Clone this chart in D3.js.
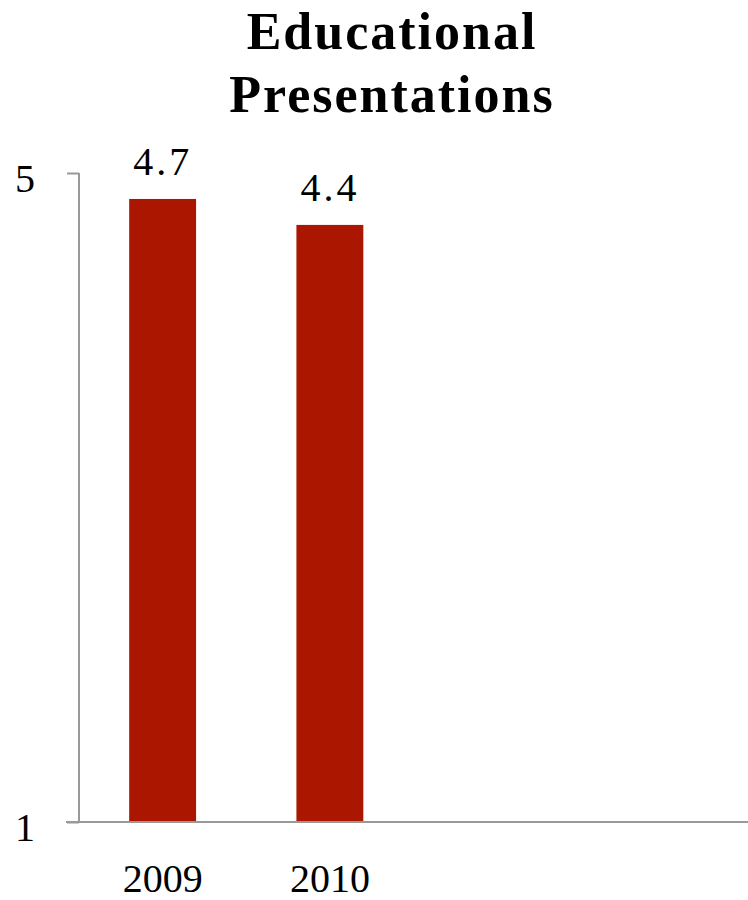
<!DOCTYPE html>
<html>
<head>
<meta charset="utf-8">
<script src="https://cdn.jsdelivr.net/npm/d3@7"></script>
<style>
  body { margin: 0; background: #fff; }
  text { font-family: "Liberation Serif", "DejaVu Serif", serif; fill: #000; }
</style>
</head>
<body>
<div id="chart"></div>
<script>
// Chart data
var categories = ["2009", "2010", "", ""];
var barValues = [4.84, 4.68, null, null];
var valueLabels = ["4.7", "4.4", "", ""];
var yTicks = [1, 5];
var titleLines = ["Educational", "Presentations"];

var width = 748, height = 900;
var margin = { top: 173, right: 0, bottom: 78, left: 79 };

var svg = d3.select("#chart")
  .append("svg")
  .attr("width", width)
  .attr("height", height);

// Scales
var x = d3.scaleBand()
  .domain(d3.range(categories.length))
  .range([margin.left, width - margin.right])
  .paddingInner(0.6)
  .paddingOuter(0.3);

var y = d3.scaleLinear()
  .domain([1, 5])
  .range([height - margin.bottom, margin.top]);

// Title
svg.selectAll(".title")
  .data(titleLines)
  .enter()
  .append("text")
  .attr("class", "title")
  .attr("x", 392)
  .attr("y", function(d, i) { return 49 + i * 63; })
  .attr("text-anchor", "middle")
  .style("font-size", "52px")
  .style("letter-spacing", "2px")
  .style("font-weight", "bold")
  .text(function(d) { return d; });

// Bars
var bars = categories.map(function(c, i) { return { i: i, v: barValues[i], label: valueLabels[i] }; })
  .filter(function(d) { return d.v != null; });

svg.selectAll(".bar")
  .data(bars)
  .enter()
  .append("rect")
  .attr("class", "bar")
  .attr("x", function(d) { return x(d.i); })
  .attr("width", x.bandwidth())
  .attr("y", function(d) { return y(d.v); })
  .attr("height", function(d) { return y(1) - y(d.v); })
  .attr("fill", "#aa1600");

// Value labels
svg.selectAll(".vlabel")
  .data(bars)
  .enter()
  .append("text")
  .attr("class", "vlabel")
  .attr("x", function(d) { return x(d.i) + x.bandwidth() / 2; })
  .attr("y", function(d) { return y(d.v) - 24; })
  .attr("text-anchor", "middle")
  .style("font-size", "40px")
  .style("letter-spacing", "3px")
  .text(function(d) { return d.label; });

// Y axis
var yAxis = svg.append("g")
  .attr("transform", "translate(" + margin.left + ",0)")
  .call(d3.axisLeft(y).tickValues(yTicks).tickSize(12).tickPadding(32).tickFormat(d3.format("d")));
yAxis.select(".domain").attr("stroke", "#999").attr("stroke-width", 2).attr("d", "M0," + y(5) + "V" + y(1));
yAxis.selectAll(".tick line").attr("stroke", "#999").attr("stroke-width", 2);
yAxis.selectAll(".tick text")
  .style("font-size", "40px")
  .style("font-family", "Liberation Serif, serif")
  .attr("dy", "0.45em");

// X axis baseline
svg.append("line")
  .attr("x1", 66)
  .attr("x2", width)
  .attr("y1", y(1))
  .attr("y2", y(1))
  .attr("stroke", "#999")
  .attr("stroke-width", 2);

// Category labels
svg.selectAll(".xlabel")
  .data(categories)
  .enter()
  .append("text")
  .attr("class", "xlabel")
  .attr("x", function(d, i) { return x(i) + x.bandwidth() / 2; })
  .attr("y", 892)
  .attr("text-anchor", "middle")
  .style("font-size", "40px")
  .text(function(d) { return d; });
</script>
</body>
</html>
